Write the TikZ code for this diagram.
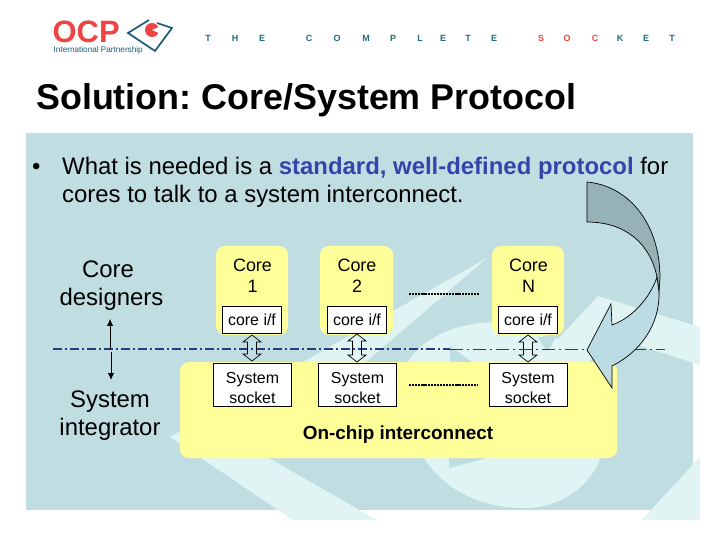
\documentclass[tikz,border=0pt]{standalone}
\usepackage{fontspec}
\setmainfont{Liberation Sans}
\usetikzlibrary{arrows.meta}
\definecolor{panelc}{HTML}{C0DDE2}
\definecolor{palec}{HTML}{E0F4F4}
\definecolor{yelc}{HTML}{FFFF99}
\definecolor{bluec}{HTML}{3344AA}
\definecolor{dashc}{HTML}{2A3A80}
\definecolor{tealc}{HTML}{1F6E78}
\definecolor{redc}{HTML}{EE4444}
\definecolor{navyc}{HTML}{1B5A78}
\definecolor{darkarc}{HTML}{96B2B6}
\definecolor{palearc}{HTML}{BBDCE3}
\tikzset{x=0.01389in,y=-0.01389in,
 whitebox/.style={draw=black,fill=white,line width=0.7pt,inner sep=0pt,align=center,font=\fontsize{16}{19.5}\selectfont},
 coretext/.style={inner sep=0pt,align=center,font=\fontsize{18}{21.5}\selectfont},
 sidetext/.style={inner sep=0pt,align=center,font=\fontsize{24}{28}\selectfont},
 yelbox/.style={fill=yelc,rounded corners=9pt},
 dbl/.style={draw=black,line width=0.7pt},
 socklet/.style={inner sep=0pt,font=\bfseries\fontsize{9}{10}\selectfont}}
\frenchspacing
\begin{document}
\begin{tikzpicture}
\useasboundingbox (0,0) rectangle (720,540);
\fill[white] (0,0) rectangle (720,540);
\fill[panelc] (26,133) rectangle (693,510);
\clip (0,0) rectangle (720,540);
% watermark
\fill[palec] (487,258) -- (170,437) -- (293,520) -- (377,520) -- (260,453) -- cycle;
\fill[palec] (408,362) .. controls (425,335) and (460,322) .. (500,322) .. controls (560,322) and (605,370) .. (605,440) .. controls (600,480) and (565,508) .. (525,508) .. controls (480,508) and (445,490) .. (424,458) -- cycle;
\fill[panelc] (538,338) -- (558,332) -- (548,353) -- cycle;
\fill[palec] (598,296) -- (700,327) -- (700,365) -- (606,335) -- (590,362) -- (535,364) -- cycle;
\fill[palec] (700,457) -- (651,510) -- (642,520) -- (700,520) -- cycle;
\fill[panelc] (450,346) -- (472,362) -- (487,458) -- (449,468) -- cycle;
% logo
\node[inner sep=0pt,anchor=base west,text=redc,font=\bfseries\fontsize{31}{31}\selectfont] (ocp) at (52.5,42.5) {OCP};
\node[inner sep=0pt,anchor=base west,text=navyc,font=\fontsize{8.2}{9}\selectfont] (intl) at (53.5,53) {International Partnership};
\draw[navyc,line width=1.7pt,line join=miter] (149,20) -- (128,33) -- (155,51) -- (172,28) -- (157,23);
\fill[redc] (152,30) circle (7);
\fill[white] (152,30) -- (161,26) -- (161,34) -- cycle;
% header letters
\foreach \t/\x/\c in {T/208/tealc,H/235/tealc,E/262/tealc,C/309/tealc,O/337/tealc,M/366/tealc,P/393/tealc,L/420/tealc,E/443/tealc,T/468/tealc,E/494/tealc,S/541/redc,O/567/redc,C/595/redc,K/620/tealc,E/646/tealc,T/672/tealc}
  \node[socklet,text=\c] at (\x,38.5) {\t};
% title
\node[inner sep=0pt,anchor=base west,font=\bfseries\fontsize{36}{40}\selectfont] (title) at (36,110) {Solution: Core/System Protocol};
% bullet
\node[inner sep=0pt,anchor=base west,font=\fontsize{24}{28}\selectfont] (bullet) at (32,174.5) {•};
\node[inner sep=0pt,anchor=base west,font=\fontsize{24}{28}\selectfont] (l1) at (62,174.5) {What is needed is a \textcolor{bluec}{\textbf{standard, well-defined protocol}} for};
\node[inner sep=0pt,anchor=base west,font=\fontsize{24}{28}\selectfont] (l2) at (62,202.5) {cores to talk to a system interconnect.};
% yellow
\fill[yelbox] (216,246) rectangle (288,335);
\fill[yelbox] (320,246) rectangle (393,335);
\fill[yelbox] (492,246) rectangle (564,335);
\fill[yelbox] (180,362) rectangle (617,458);
% labels
\node[coretext] (c1) at (252.5,275.5) {Core\\1};
\node[coretext] (c2) at (357,275.5) {Core\\2};
\node[coretext] (cn) at (528.5,275.5) {Core\\N};
\node[whitebox,minimum width=59pt,minimum height=27.5pt] (if1) at (252,320) {core i/f};
\node[whitebox,minimum width=59pt,minimum height=27.5pt] (if2) at (357,320) {core i/f};
\node[whitebox,minimum width=59pt,minimum height=27.5pt] (ifn) at (528,320) {core i/f};
\node[whitebox,minimum width=78pt,minimum height=43pt] (s1) at (252.5,385) {\rule{0pt}{17pt}System\\socket};
\node[whitebox,minimum width=78pt,minimum height=43pt] (s2) at (357.5,385) {\rule{0pt}{17pt}System\\socket};
\node[whitebox,minimum width=78pt,minimum height=43pt] (sn) at (528,385) {\rule{0pt}{17pt}System\\socket};
\node[inner sep=0pt,font=\bfseries\fontsize{19}{22}\selectfont] (onchip) at (398,434.5) {On-chip interconnect};
\node[sidetext] (cd) at (111.5,286) {\hspace*{-7pt}Core\\designers};
\node[sidetext] (si) at (110,416) {System\\integrator};
% dots
\coordinate (d1a) at (409,294); \coordinate (d1b) at (479,294);
\coordinate (d2a) at (409,385); \coordinate (d2b) at (477,385);
\draw[line width=3pt,dash pattern=on 2.2pt off 0.9pt] (d1a) -- (d1b);
\draw[line width=3pt,dash pattern=on 2.2pt off 0.9pt] (d2a) -- (d2b);
% separator
\coordinate (sa) at (53,349); \coordinate (sm) at (450,349); \coordinate (sb) at (665,349);
\draw[dashc,line width=1.5pt,dash pattern=on 9pt off 3pt on 2pt off 3pt] (sa) -- (sm);
\draw[dashc,line width=0.6pt,dash pattern=on 13pt off 4pt on 2pt off 4pt] (sm) -- (sb);
% side arrows
\coordinate (v1) at (110,349);
\coordinate (v2) at (110,319);
\coordinate (v3) at (111,380);
\coordinate (v4) at (111,352);
\draw[line width=0.7pt,-{Latex[length=7pt,width=6.5pt]}] (v1) -- (v2);
\draw[line width=1pt,-{Latex[length=7pt,width=6.5pt]}] (v4) -- (v3);
% double arrows
\foreach \x/\t/\b in {252/335/361,357/334/362,528/335/362}{
 \draw[dbl] (\x,\t) -- (\x+9,\t+7) -- (\x+4.5,\t+7) -- (\x+4.5,\b-7) -- (\x+9,\b-7) -- (\x,\b) -- (\x-9,\b-7) -- (\x-4.5,\b-7) -- (\x-4.5,\t+7) -- (\x-9,\t+7) -- cycle;
}
% curved arrow
\path[draw=black,line width=0.7pt,fill=darkarc]
 (587,182) .. controls (630,186) and (660,225) .. (660,278)
 -- (659,292)
 -- (657,277)
 .. controls (650,243) and (625,222) .. (587,222) -- cycle;
\path[draw=black,line width=0.7pt,fill=palearc]
 (657,277) -- (659,292) .. controls (660,325) and (640,352) .. (612,366) -- (612,388) -- (587,350) -- (611,304) -- (612,325) .. controls (632,318) and (650,298) .. (657,277) -- cycle;
\end{tikzpicture}
\end{document}
